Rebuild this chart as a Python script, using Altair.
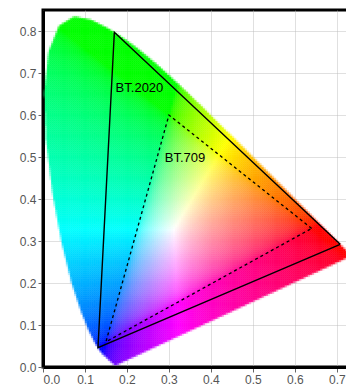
import numpy as np
import pandas as pd
import altair as alt

# Spectral locus (CIE 1931 chromaticity x, y), read along the horseshoe edge
locus_x = [0.1741, 0.1733, 0.1726, 0.1714, 0.1689, 0.1644, 0.1566, 0.1440, 0.1355,
           0.1241, 0.1096, 0.0913, 0.0687, 0.0454, 0.0235, 0.0082, 0.0039, 0.0139,
           0.0389, 0.0743, 0.1142, 0.1547, 0.1929, 0.2296, 0.2658, 0.3016, 0.3373,
           0.3731, 0.4087, 0.4441, 0.4788, 0.5125, 0.5448, 0.5752, 0.6029, 0.6270,
           0.6482, 0.6658, 0.6915, 0.7079, 0.7190, 0.7260, 0.7347]
locus_y = [0.0050, 0.0048, 0.0048, 0.0051, 0.0069, 0.0109, 0.0177, 0.0297, 0.0399,
           0.0578, 0.0868, 0.1327, 0.2007, 0.2950, 0.4127, 0.5384, 0.6548, 0.7502,
           0.8120, 0.8338, 0.8262, 0.8059, 0.7816, 0.7543, 0.7243, 0.6923, 0.6589,
           0.6245, 0.5896, 0.5547, 0.5202, 0.4866, 0.4544, 0.4242, 0.3965, 0.3725,
           0.3514, 0.3340, 0.3083, 0.2920, 0.2809, 0.2740, 0.2653]

# Gamut triangles (closed)
bt2020_x = [0.708, 0.170, 0.131, 0.708]
bt2020_y = [0.292, 0.797, 0.046, 0.292]
bt709_x = [0.640, 0.300, 0.150, 0.640]
bt709_y = [0.330, 0.600, 0.060, 0.330]

label_text = ["BT.2020", "BT.709"]
label_x = [0.173, 0.290]
label_y = [0.665, 0.498]

x_ticks = [0.0, 0.1, 0.2, 0.3, 0.4, 0.5, 0.6, 0.7]
y_ticks = [0.0, 0.1, 0.2, 0.3, 0.4, 0.5, 0.6, 0.7, 0.8]

X_MAX = 0.76
Y_MAX = 0.85

# ---- colour cells filling the horseshoe (edge cells get partial opacity) ----
poly_x = np.array(locus_x)
poly_y = np.array(locus_y)


def inside_poly(px, py):
    res = np.zeros(px.shape, dtype=bool)
    n = len(poly_x)
    j = n - 1
    for i in range(n):
        xi, yi, xj, yj = poly_x[i], poly_y[i], poly_x[j], poly_y[j]
        cond = ((yi > py) != (yj > py)) & (px < (xj - xi) * (py - yi) / (yj - yi + 1e-12) + xi)
        res ^= cond
        j = i
    return res


step = 0.005
gx, gy = np.meshgrid(np.arange(0, 0.75, step) + step / 2,
                     np.arange(0, Y_MAX, step) + step / 2)
px, py = gx.ravel(), gy.ravel()
sub = 4
cover = np.zeros(px.shape)
for a in range(sub):
    for b in range(sub):
        ox = (a + 0.5) / sub - 0.5
        oy = (b + 0.5) / sub - 0.5
        cover += inside_poly(px + ox * step, py + oy * step)
cover /= sub * sub
keep = cover > 0
px, py, cover = px[keep], py[keep], cover[keep]

X = px / py
Y = np.ones_like(px)
Z = (1 - px - py) / py
M = np.array([[3.2406, -1.5372, -0.4986],
              [-0.9689, 1.8758, 0.0415],
              [0.0557, -0.2040, 1.0570]])
rgb = M @ np.vstack([X, Y, Z])
rgb = np.clip(rgb, 0, None)
rgb = rgb / rgb.max(axis=0, keepdims=True)
rgb = np.where(rgb <= 0.0031308, 12.92 * rgb, 1.055 * rgb ** (1 / 2.4) - 0.055)
rgb = np.clip(np.round(rgb * 255), 0, 255).astype(int)
cols = ["#%02x%02x%02x" % tuple(c) for c in rgb.T]

cells = pd.DataFrame({"x": np.round(px - step / 2, 4), "x2": np.round(px + step / 2, 4),
                      "y": np.round(py - step / 2, 4), "y2": np.round(py + step / 2, 4),
                      "c": cols, "a": np.round(cover, 3)})

xs = alt.Scale(domain=[0, X_MAX], nice=False)
ys = alt.Scale(domain=[0, Y_MAX], nice=False)

xaxis = alt.Axis(values=x_ticks, format=".1f", title=None)
yaxis = alt.Axis(values=y_ticks, format=".1f", title=None)

fill = alt.Chart(cells).mark_rect(strokeWidth=0.5).encode(
    x=alt.X("x:Q", scale=xs, axis=xaxis),
    x2="x2:Q",
    y=alt.Y("y:Q", scale=ys, axis=yaxis),
    y2="y2:Q",
    fill=alt.Fill("c:N", scale=None),
    stroke=alt.Stroke("c:N", scale=None),
    opacity=alt.Opacity("a:Q", scale=None),
)

tri2020 = pd.DataFrame({"x": bt2020_x, "y": bt2020_y, "o": range(len(bt2020_x))})
tri709 = pd.DataFrame({"x": bt709_x, "y": bt709_y, "o": range(len(bt709_x))})

l2020 = alt.Chart(tri2020).mark_line(color="black", strokeWidth=1.4).encode(
    x=alt.X("x:Q", scale=xs), y=alt.Y("y:Q", scale=ys), order="o:Q")
l709 = alt.Chart(tri709).mark_line(color="black", strokeWidth=1.3, strokeDash=[3, 3]).encode(
    x=alt.X("x:Q", scale=xs), y=alt.Y("y:Q", scale=ys), order="o:Q")

labels = alt.Chart(pd.DataFrame({"t": label_text, "x": label_x, "y": label_y})).mark_text(
    align="left", baseline="middle", fontSize=13, font="Liberation Sans", color="black"
).encode(x=alt.X("x:Q", scale=xs), y=alt.Y("y:Q", scale=ys), text="t:N")

chart = alt.layer(fill, l2020, l709, labels).properties(
    width=319, height=357,
    autosize=alt.AutoSizeParams(type="none"),
    padding={"left": 35, "top": 2, "right": -16, "bottom": 18},
).configure_view(
    stroke="black", strokeWidth=3
).configure_axis(
    zindex=1,
    grid=True, gridColor="#bbbbbb", gridOpacity=0.45, gridWidth=1,
    domainColor="black", domainWidth=3,
    tickColor="#666666", tickSize=5, tickWidth=1,
    labelColor="#555555", labelFont="Liberation Sans", labelFontSize=12,
    labelPadding=2,
)

chart.save("out.html", embed_options={"renderer": "svg", "actions": False})
